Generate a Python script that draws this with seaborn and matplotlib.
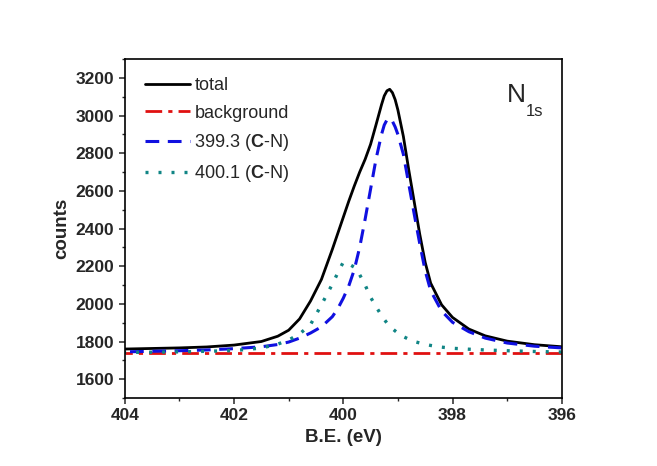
import numpy as np
import pandas as pd
import matplotlib
matplotlib.use("Agg")
import matplotlib.pyplot as plt
from matplotlib.ticker import MultipleLocator
import seaborn as sns

# binding energy grid (eV) and curves
be = [404, 403.5, 403, 402.5, 402, 401.5, 401.2, 401.0, 400.8, 400.6, 400.4,
      400.2, 400.1, 400.0, 399.9, 399.8, 399.7, 399.6, 399.5, 399.4, 399.3,
      399.25, 399.2, 399.15, 399.1, 399.05, 399.0, 398.9, 398.8, 398.7, 398.6,
      398.5, 398.4, 398.2, 398.0, 397.7, 397.4, 397.0, 396.5, 396.0]
total = [1760, 1763, 1766, 1771, 1781, 1800, 1828, 1860, 1920, 2015, 2130,
         2290, 2375, 2460, 2545, 2625, 2700, 2768, 2848, 2952, 3058,
         3105, 3132, 3140, 3122, 3085, 3030, 2890, 2710, 2540, 2370,
         2220, 2110, 1995, 1928, 1866, 1830, 1802, 1783, 1772]
peak_cn1 = [1745, 1748, 1751, 1755, 1762, 1772, 1784, 1797, 1818, 1845, 1878,
            1932, 1975, 2030, 2095, 2180, 2300, 2450, 2610, 2770, 2900,
            2950, 2978, 2986, 2970, 2940, 2900, 2795, 2635, 2475, 2320,
            2175, 2070, 1962, 1902, 1852, 1818, 1792, 1775, 1766]
peak_cn2 = [1742, 1743, 1745, 1748, 1752, 1765, 1786, 1808, 1840, 1890, 1995,
            2105, 2165, 2222, 2212, 2195, 2155, 2100, 2035, 1985, 1938,
            1917, 1898, 1882, 1868, 1856, 1845, 1826, 1812, 1800, 1792,
            1785, 1779, 1770, 1764, 1759, 1755, 1751, 1747, 1744]
bg_be = [404, 396]
bg_counts = [1738, 1738]

sns.set_style("ticks")
plt.rcParams['font.family'] = ['Liberation Sans', 'DejaVu Sans']
plt.rcParams['mathtext.fontset'] = 'custom'
plt.rcParams['mathtext.rm'] = 'Liberation Sans'
plt.rcParams['mathtext.bf'] = 'Liberation Sans:bold'

fig = plt.figure(figsize=(6.57, 4.66), dpi=100)
ax = fig.add_axes([0.190, 0.146, 0.665, 0.727])

sns.lineplot(x=be, y=total, ax=ax, color='black', lw=2.0, label='total', errorbar=None)
sns.lineplot(x=bg_be, y=bg_counts, ax=ax, color='#e01010', lw=2.0, label='background', errorbar=None)
sns.lineplot(x=be, y=peak_cn1, ax=ax, color='#1010e0', lw=2.2,
             label=r'399.3 ($\mathbf{C}$-N)', errorbar=None)
sns.lineplot(x=be, y=peak_cn2, ax=ax, color='#108585', lw=2.4,
             label=r'400.1 ($\mathbf{C}$-N)', errorbar=None)

lines = ax.get_lines()
lines[1].set_dashes([6, 2.2, 1.5, 2.2])
lines[2].set_dashes([4.5, 2.8])
lines[3].set_dashes([0.9, 3.0])

ax.set_xlim(404, 396)
ax.set_ylim(1500, 3300)
ax.xaxis.set_major_locator(MultipleLocator(2))
ax.xaxis.set_minor_locator(MultipleLocator(1))
ax.yaxis.set_major_locator(MultipleLocator(200))
ax.yaxis.set_minor_locator(MultipleLocator(100))
ax.tick_params(which='major', direction='out', length=4, width=1.1, labelsize=12.5)
ax.tick_params(which='minor', direction='out', length=2.5, width=1.0)
for lab in ax.get_xticklabels() + ax.get_yticklabels():
    lab.set_fontweight('bold')
for sp in ax.spines.values():
    sp.set_linewidth(1.2)
    sp.set_color('black')

ax.set_xlabel('B.E. (eV)', fontsize=13.5, fontweight='bold', labelpad=4)
ax.set_ylabel('counts', fontsize=13.5, fontweight='bold', labelpad=4)

ax.legend(loc='upper left', bbox_to_anchor=(0.029, 0.968), borderaxespad=0,
          frameon=False, fontsize=13, handlelength=2.5, handletextpad=0.25,
          labelspacing=0.57)

ax.text(0.875, 0.895, 'N', transform=ax.transAxes, fontsize=19, ha='left', va='center')
ax.text(0.918, 0.845, '1s', transform=ax.transAxes, fontsize=12, ha='left', va='center')

plt.savefig('out.png', dpi=100, facecolor='white')
